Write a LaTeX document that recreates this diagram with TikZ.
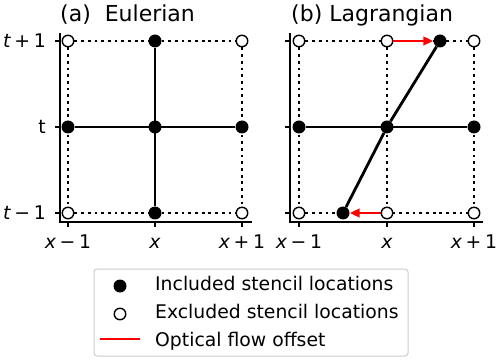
\documentclass[tikz,border=0pt]{standalone}
\usepackage{fontspec}
\setmainfont{DejaVu Sans}
\usepackage{xcolor}
\usetikzlibrary{arrows.meta, backgrounds}
\definecolor{framegray}{RGB}{204,204,204}
\tikzstyle{incl}=[circle, fill=black, inner sep=0pt, minimum size=13pt]
\tikzstyle{excl}=[circle, draw=black, fill=white, line width=1.4pt, inner sep=0pt, minimum size=11.5pt]
\tikzstyle{gridline}=[line width=2.8pt, dash pattern=on 2.8pt off 3.9pt]
\tikzstyle{stencil}=[line width=2.8pt]
\tikzstyle{offset}=[-{Triangle[length=10pt, width=8.5pt]}, line width=2.9pt, color=red]
\tikzstyle{spine}=[line width=1.5pt]
\tikzstyle{ticktext}=[inner sep=0pt, font=\fontsize{18.8}{22}\selectfont]
\tikzstyle{paneltitle}=[inner sep=0pt, anchor=base west, font=\fontsize{22}{26}\selectfont]
\tikzstyle{legendbox}=[draw=framegray, line width=1pt, rounded corners=3pt, fill=white]

\begin{document}
\begin{tikzpicture}[x=1pt, y=-1pt]
  \useasboundingbox (0,0) rectangle (500,363);

  % axes of both panels
  \draw[spine] (60,33) -- (60,222) -- (252,222);
  \draw[spine] (290,33) -- (290,222) -- (483,222);
  \foreach \y in {41,127,213} {
    \draw[spine] (55,\y) -- (60,\y);
    \draw[spine] (285,\y) -- (290,\y);
  }
  \foreach \x in {68,155,242,299,387,474}
    \draw[spine] (\x,222) -- (\x,227);

  % tick labels
  \node[ticktext, anchor=base east] (yt-top) at (46,47.8) {\itshape t\upshape\hspace{0.2em}+\hspace{0.2em}1};
  \node[ticktext, anchor=base east] (yt-mid) at (46,133.8) {t};
  \node[ticktext, anchor=base east] (yt-bot) at (46,219.8) {\itshape t\upshape\hspace{0.2em}−\hspace{0.2em}1};
  \node[ticktext, anchor=base] (xa-l) at (68,248) {\itshape x\upshape\hspace{0.2em}−\hspace{0.2em}1};
  \node[ticktext, anchor=base] (xa-c) at (155,248) {\itshape x};
  \node[ticktext, anchor=base] (xa-r) at (242,248) {\itshape x\upshape\hspace{0.2em}+\hspace{0.2em}1};
  \node[ticktext, anchor=base] (xb-l) at (299,248) {\itshape x\upshape\hspace{0.2em}−\hspace{0.2em}1};
  \node[ticktext, anchor=base] (xb-c) at (387,248) {\itshape x};
  \node[ticktext, anchor=base] (xb-r) at (474,248) {\itshape x\upshape\hspace{0.2em}+\hspace{0.2em}1};

  % titles
  \node[paneltitle] (title-a) at (60,22) {(a)\ \ Eulerian};
  \node[paneltitle] (title-b) at (291,22) {(b) Lagrangian};

  % (a) Eulerian stencil
  \node[excl] (a-tl) at (68,41) {};
  \node[incl] (a-tc) at (155,41) {};
  \node[excl] (a-tr) at (242,41) {};
  \node[incl] (a-ml) at (68,127) {};
  \node[incl] (a-mc) at (155,127) {};
  \node[incl] (a-mr) at (242,127) {};
  \node[excl] (a-bl) at (68,213) {};
  \node[incl] (a-bc) at (155,213) {};
  \node[excl] (a-br) at (242,213) {};

  % (b) Lagrangian stencil
  \node[excl] (b-tl) at (299,41) {};
  \node[excl] (b-tc) at (387,41) {};
  \node[excl] (b-tr) at (474,41) {};
  \node[incl] (b-to) at (440,41) {};
  \node[incl] (b-ml) at (299,127) {};
  \node[incl] (b-mc) at (387,127) {};
  \node[incl] (b-mr) at (474,127) {};
  \node[excl] (b-bl) at (299,213) {};
  \node[incl] (b-bo) at (343,213) {};
  \node[excl] (b-bc) at (387,213) {};
  \node[excl] (b-br) at (474,213) {};

  \begin{scope}[on background layer]
    \draw[gridline] (a-tl) -- (a-tr);
    \draw[gridline] (a-bl) -- (a-br);
    \draw[gridline] (a-tl) -- (a-bl);
    \draw[gridline] (a-tr) -- (a-br);
    \draw[stencil] (a-tc) -- (a-bc);
    \draw[stencil] (a-ml) -- (a-mr);
    \draw[gridline] (b-tl) -- (b-tr);
    \draw[gridline] (b-bl) -- (b-br);
    \draw[gridline] (b-tl) -- (b-bl);
    \draw[gridline] (b-tc) -- (b-bc);
    \draw[gridline] (b-tr) -- (b-br);
    \draw[stencil] (b-ml) -- (b-mr);
    \draw[stencil] (b-bo) -- (b-mc) -- (b-to);
  \end{scope}

  \draw[offset] (b-tc) -- (b-to);
  \draw[offset] (b-bc) -- (b-bo);

  % legend
  \node[legendbox, minimum width=314pt, minimum height=87pt] (legend) at (251,312.5) {};
  \node[incl] (key-in) at (120,286) {};
  \node[excl] (key-ex) at (120,314) {};
  \coordinate (key-a) at (100,339);
  \coordinate (key-b) at (140,339);
  \draw[line width=2.9pt, red] (key-a) -- (key-b);
  \node[ticktext, anchor=base west] (txt-in) at (155,290) {Included stencil locations};
  \node[ticktext, anchor=base west] (txt-ex) at (155,318) {Excluded stencil locations};
  \node[ticktext, anchor=base west] (txt-of) at (155,346) {Optical flow offset};
\end{tikzpicture}
\end{document}
